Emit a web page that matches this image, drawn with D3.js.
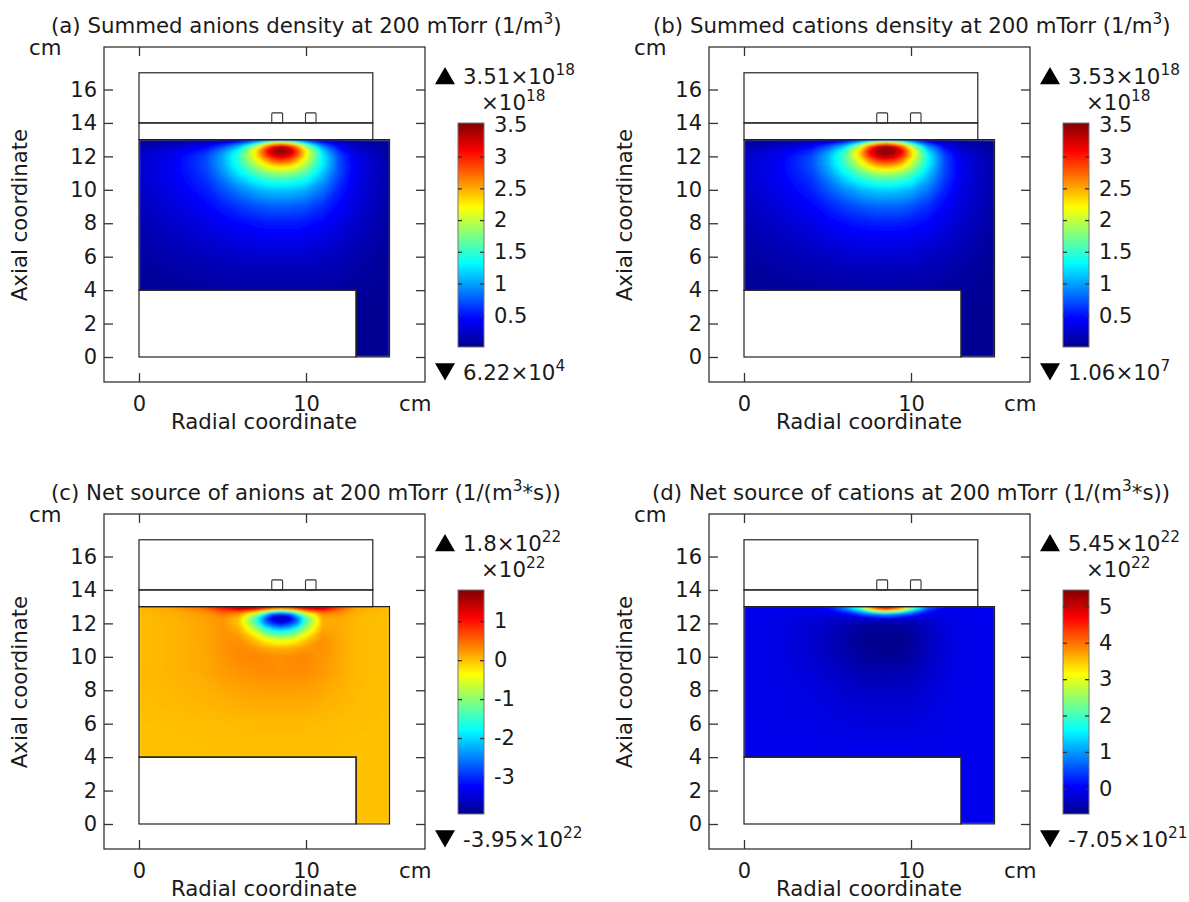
<!DOCTYPE html>
<html>
<head>
<meta charset="utf-8">
<script src="https://cdn.jsdelivr.net/npm/d3@7"></script>
<style>
  html, body { margin: 0; padding: 0; background: #fff; }
  text { font-family: "DejaVu Sans", sans-serif; fill: #1a1a1a; }
</style>
</head>
<body>
<div id="chart"></div>
<script>
const r_levels = [0, 2, 4, 5, 6, 7, 7.5, 8, 8.5, 9, 9.5, 10, 11, 12, 13, 15];
const z_levels = [0, 4, 5, 6, 7, 8, 9, 10, 10.5, 11, 11.5, 12, 12.3, 12.6, 12.85, 13];

const anions_density = [
  [.02, .02, .02, .02, .02, .02, .02, .02, .02, .02, .02, .02, .02, .02, .02, .02],
  [.03, .05, .07, .08, .09, .09, .09, .09, .09, .09, .09, .09, .08, .07, .05, .02],
  [.05, .08, .11, .13, .14, .15, .15, .15, .15, .15, .15, .15, .13, .11, .08, .03],
  [.08, .13, .18, .21, .23, .24, .24, .24, .24, .24, .24, .24, .21, .18, .12, .04],
  [.11, .18, .26, .3, .34, .36, .37, .37, .37, .37, .37, .36, .31, .26, .18, .05],
  [.14, .24, .34, .4, .46, .5, .52, .52, .52, .52, .52, .5, .44, .34, .24, .07],
  [.18, .3, .44, .54, .64, .72, .75, .77, .77, .77, .75, .72, .6, .44, .3, .08],
  [.22, .36, .55, .72, .9, 1.05, 1.1, 1.13, 1.14, 1.13, 1.1, 1.05, .84, .56, .34, .09],
  [.24, .38, .6, .82, 1.08, 1.3, 1.37, 1.42, 1.43, 1.42, 1.37, 1.3, .98, .62, .36, .09],
  [.25, .4, .66, .94, 1.28, 1.6, 1.72, 1.82, 1.85, 1.82, 1.72, 1.6, 1.14, .68, .38, .09],
  [.25, .4, .7, 1.02, 1.45, 1.95, 2.2, 2.4, 2.45, 2.4, 2.2, 1.92, 1.28, .7, .38, .09],
  [.23, .38, .68, 1.03, 1.52, 2.25, 2.7, 3.1, 3.25, 3.1, 2.7, 2.2, 1.3, .68, .35, .08],
  [.19, .32, .58, .92, 1.4, 2.3, 2.9, 3.38, 3.5, 3.38, 2.9, 2.25, 1.18, .58, .28, .07],
  [.13, .22, .42, .68, 1.08, 1.9, 2.5, 3.05, 3.3, 3.05, 2.5, 1.85, .9, .42, .2, .05],
  [.05, .1, .18, .3, .5, 1.0, 1.4, 1.8, 2.0, 1.8, 1.4, 1.0, .42, .2, .09, .02],
  [.01, .01, .02, .03, .06, .12, .18, .25, .3, .25, .18, .12, .05, .02, .01, 0]
];

const cations_density = [
  [.02, .02, .02, .02, .02, .02, .02, .02, .02, .02, .02, .02, .02, .02, .02, .02],
  [.03, .05, .07, .08, .09, .09, .09, .09, .09, .09, .09, .09, .08, .07, .05, .02],
  [.05, .08, .11, .13, .14, .15, .15, .16, .16, .16, .15, .15, .13, .11, .08, .03],
  [.08, .13, .18, .21, .24, .25, .25, .25, .25, .25, .25, .25, .21, .18, .12, .04],
  [.11, .18, .26, .31, .35, .37, .38, .38, .38, .38, .38, .37, .32, .26, .18, .05],
  [.14, .24, .34, .41, .48, .52, .53, .54, .54, .54, .53, .51, .45, .34, .24, .07],
  [.18, .3, .44, .55, .66, .74, .77, .79, .79, .79, .77, .73, .61, .44, .3, .08],
  [.22, .36, .55, .74, .93, 1.08, 1.13, 1.16, 1.17, 1.16, 1.12, 1.07, .86, .57, .34, .09],
  [.24, .38, .6, .84, 1.12, 1.34, 1.42, 1.47, 1.48, 1.47, 1.42, 1.33, 1.0, .63, .36, .09],
  [.25, .4, .66, .96, 1.32, 1.66, 1.8, 1.9, 1.93, 1.9, 1.8, 1.64, 1.16, .69, .38, .09],
  [.25, .4, .71, 1.05, 1.5, 2.05, 2.35, 2.55, 2.6, 2.55, 2.35, 2.02, 1.32, .71, .38, .09],
  [.23, .38, .69, 1.05, 1.58, 2.4, 2.9, 3.25, 3.35, 3.25, 2.9, 2.35, 1.35, .69, .35, .08],
  [.19, .32, .59, .94, 1.46, 2.45, 3.1, 3.44, 3.52, 3.44, 3.1, 2.4, 1.22, .59, .28, .07],
  [.13, .22, .43, .7, 1.12, 2.05, 2.7, 3.22, 3.4, 3.22, 2.7, 2.0, .95, .43, .2, .05],
  [.05, .1, .18, .31, .53, 1.1, 1.55, 1.95, 2.15, 1.95, 1.55, 1.1, .44, .2, .09, .02],
  [.01, .01, .02, .03, .06, .13, .2, .27, .32, .27, .2, .13, .05, .02, .01, 0]
];

const anions_source = [
  [0, 0, 0, 0, 0, 0, 0, 0, 0, 0, 0, 0, 0, 0, 0, 0],
  [0, 0, 0, 0, 0, .01, .01, .01, .01, .01, .01, .01, 0, 0, 0, 0],
  [0, 0, .01, .01, .02, .02, .02, .02, .02, .02, .02, .02, .01, .01, 0, 0],
  [0, .01, .02, .03, .04, .04, .05, .05, .05, .05, .05, .04, .03, .02, .01, 0],
  [.02, .04, .06, .08, .1, .11, .11, .11, .11, .11, .11, .11, .08, .06, .03, 0],
  [.03, .05, .1, .13, .16, .18, .19, .19, .19, .19, .19, .18, .14, .09, .04, 0],
  [.04, .07, .14, .2, .25, .28, .29, .29, .29, .29, .29, .28, .22, .13, .05, 0],
  [.03, .07, .15, .24, .31, .34, .32, .3, .29, .3, .32, .33, .26, .14, .05, 0],
  [.03, .07, .15, .25, .31, .24, .17, .12, .1, .12, .17, .24, .28, .14, .05, 0],
  [.03, .07, .16, .26, .27, -.03, -.28, -.48, -.53, -.48, -.28, -.03, .28, .14, .05, 0],
  [.03, .07, .16, .26, .14, -.62, -1.18, -1.58, -1.72, -1.58, -1.18, -.62, .2, .14, .05, 0],
  [.03, .07, .16, .25, -.05, -1.4, -2.4, -3.0, -3.3, -3.0, -2.4, -1.3, .1, .13, .05, 0],
  [.03, .08, .18, .28, -.02, -1.5, -2.7, -3.6, -3.9, -3.6, -2.7, -1.4, .12, .15, .06, 0],
  [.04, .1, .25, .45, .3, -.7, -1.6, -2.6, -2.9, -2.6, -1.6, -.6, .35, .25, .08, .01],
  [.05, .14, .42, .85, 1.2, 1.0, .5, -.05, -.3, -.05, .5, 1.0, 1.15, .55, .14, .02],
  [.06, .2, .65, 1.2, 1.7, 1.8, 1.75, 1.7, 1.65, 1.7, 1.75, 1.8, 1.6, .8, .18, .03]
];

const cations_source = [
  [-.03, -.03, -.03, -.03, -.03, -.03, -.03, -.03, -.03, -.03, -.03, -.03, -.03, -.03, -.03, -.03],
  [-.04, -.04, -.04, -.05, -.05, -.05, -.05, -.05, -.05, -.05, -.05, -.05, -.05, -.04, -.04, -.03],
  [-.05, -.06, -.07, -.08, -.09, -.1, -.1, -.1, -.1, -.1, -.1, -.1, -.08, -.07, -.05, -.03],
  [-.05, -.07, -.1, -.12, -.14, -.15, -.16, -.16, -.16, -.16, -.16, -.15, -.12, -.09, -.06, -.03],
  [-.06, -.08, -.12, -.16, -.19, -.21, -.22, -.22, -.22, -.22, -.22, -.21, -.16, -.11, -.06, -.03],
  [-.06, -.09, -.15, -.2, -.26, -.3, -.32, -.32, -.32, -.32, -.32, -.3, -.21, -.13, -.07, -.03],
  [-.07, -.11, -.18, -.26, -.35, -.43, -.45, -.46, -.47, -.46, -.45, -.42, -.28, -.16, -.08, -.03],
  [-.07, -.12, -.22, -.33, -.46, -.58, -.62, -.64, -.65, -.64, -.62, -.57, -.36, -.2, -.08, -.03],
  [-.07, -.12, -.24, -.36, -.5, -.63, -.67, -.69, -.7, -.69, -.67, -.62, -.38, -.2, -.08, -.03],
  [-.07, -.12, -.25, -.37, -.52, -.65, -.68, -.7, -.7, -.7, -.68, -.64, -.39, -.2, -.08, -.03],
  [-.07, -.12, -.24, -.36, -.5, -.62, -.65, -.67, -.67, -.67, -.65, -.6, -.37, -.19, -.08, -.03],
  [-.06, -.11, -.21, -.31, -.42, -.5, -.54, -.56, -.56, -.56, -.54, -.49, -.32, -.16, -.07, -.03],
  [-.06, -.1, -.17, -.23, -.27, -.24, -.2, -.16, -.14, -.16, -.2, -.22, -.23, -.13, -.06, -.03],
  [-.05, -.08, -.12, -.12, .1, .55, .85, 1.1, 1.2, 1.1, .85, .55, .02, -.1, -.05, -.02],
  [-.04, -.05, -.05, .05, .7, 1.8, 2.9, 3.8, 4.3, 3.8, 3.0, 2.0, .45, -.02, -.03, -.02],
  [-.03, -.03, 0, .12, .9, 2.4, 3.9, 5.0, 5.4, 5.0, 4.1, 2.8, .8, .1, -.02, -.01]
];

// geometry of the reactor drawing (cm)
const plasma_outline = [[0, 4], [0, 13], [15, 13], [15, 0], [13, 0], [13, 4]];
const boxes = [[0, 14, 14, 17], [0, 13, 14, 14], [0, 0, 13, 4]];   // r0, z0, r1, z1
const coils = [[7.95, 14, 8.6, 14.6], [9.97, 14, 10.6, 14.6]];

const x_ticks = [0, 10];
const y_ticks = [0, 2, 4, 6, 8, 10, 12, 14, 16];

const jet_stops = [0, .125, .375, .625, .875, 1];
const jet_colors = ["#00008f", "#0000ff", "#00ffff", "#ffff00", "#ff0000", "#800000"];

const panel_ids = ["a", "b", "c", "d"];
const titles = [
  ["(a) Summed anions density at 200 mTorr (1/m", "3", ")"],
  ["(b) Summed cations density at 200 mTorr (1/m", "3", ")"],
  ["(c) Net source of anions at 200 mTorr (1/(m", "3", "*s))"],
  ["(d) Net source of cations at 200 mTorr (1/(m", "3", "*s))"]
];
const fields = [anions_density, cations_density, anions_source, cations_source];
const color_domains = [[0, 3.53], [0, 3.53], [-3.95, 1.8], [-.705, 5.45]];
const bar_ticks = [
  [.5, 1, 1.5, 2, 2.5, 3, 3.5],
  [.5, 1, 1.5, 2, 2.5, 3, 3.5],
  [-3, -2, -1, 0, 1],
  [0, 1, 2, 3, 4, 5]
];
const max_labels = [["3.51×10", "18"], ["3.53×10", "18"], ["1.8×10", "22"], ["5.45×10", "22"]];
const min_labels = [["6.22×10", "4"], ["1.06×10", "7"], ["-3.95×10", "22"], ["-7.05×10", "21"]];
const bar_exponents = ["18", "18", "22", "22"];

const panel_dx = [0, 605, 0, 605];
const panel_dy = [0, 0, 467, 467];
const title_x = [51, 48, 51, 47];

const font_big = 21.3;

function add_sup(sel, parts)
{
  sel.append("tspan").text(parts[0]);
  sel.append("tspan").attr("dy", -9).attr("font-size", font_big * .72).text(parts[1]);
  if (parts[2])
    sel.append("tspan").attr("dy", 9).text(parts[2]);
}

function draw_panel(svg, i)
{
  const g = svg.append("g")
    .attr("transform", `translate(${panel_dx[i]}, ${panel_dy[i]})`)
    .attr("font-size", font_big);

  const x = d3.scaleLinear().domain([0, 10]).range([139, 306]);
  const y = d3.scaleLinear().domain([0, 16]).range([357, 89.5]);
  const frame = {left: 104, right: 425, top: 47, bottom: 382};

  const jet = d3.scaleLinear().domain(jet_stops).range(jet_colors);
  const dom = color_domains[i];
  const color = d3.scaleLinear().domain(dom).range([0, 1]);

  // the field: filled contours on the read-off grid, grid index -> cm -> px
  const rows = fields[i];
  const nx = r_levels.length, ny = z_levels.length;
  const sx = d3.scaleLinear().domain(d3.range(nx)).range(r_levels).clamp(true);
  const sy = d3.scaleLinear().domain(d3.range(ny)).range(z_levels).clamp(true);
  const thresholds = d3.range(dom[0], dom[1], (dom[1] - dom[0]) / 400);
  const contours = d3.contours().size([nx, ny]).thresholds(thresholds)(rows.flat());
  const proj = d3.geoTransform({
    point: function(px, py) { this.stream.point(x(sx(px - .5)), y(sy(py - .5))); }
  });
  const path = d3.geoPath(proj);
  const outline = d3.line().x(d => x(d[0])).y(d => y(d[1])).curve(d3.curveLinearClosed);

  g.append("clipPath").attr("id", "clip-" + panel_ids[i])
    .append("path").attr("d", outline(plasma_outline));

  g.append("g")
    .attr("clip-path", `url(#clip-${panel_ids[i]})`)
    .append("g")
    .attr("filter", "url(#soft)")
    .selectAll("path")
    .data(contours)
    .join("path")
      .attr("d", path)
      .attr("fill", d => jet(color(d.value)));

  // drawing outlines
  g.append("path").attr("d", outline(plasma_outline))
    .attr("fill", "none").attr("stroke", "#222").attr("stroke-width", 1.2);
  g.selectAll("rect.box").data(boxes).join("rect").attr("class", "box")
    .attr("x", d => x(d[0])).attr("y", d => y(d[3]))
    .attr("width", d => x(d[2]) - x(d[0])).attr("height", d => y(d[1]) - y(d[3]))
    .attr("fill", "none").attr("stroke", "#222").attr("stroke-width", 1.2);
  g.selectAll("rect.coil").data(coils).join("rect").attr("class", "coil")
    .attr("x", d => x(d[0])).attr("y", d => y(d[3]))
    .attr("width", d => x(d[2]) - x(d[0])).attr("height", d => y(d[1]) - y(d[3]))
    .attr("rx", 1)
    .attr("fill", "none").attr("stroke", "#333").attr("stroke-width", 1.1);

  // frame and mirrored axes
  g.append("rect")
    .attr("x", frame.left).attr("y", frame.top)
    .attr("width", frame.right - frame.left).attr("height", frame.bottom - frame.top)
    .attr("fill", "none").attr("stroke", "#333").attr("stroke-width", 1.3);

  const style_axis = function(a) {
    a.select(".domain").remove();
    a.selectAll(".tick line").attr("stroke", "#333").attr("stroke-width", 1.3);
    a.selectAll("text").attr("font-family", "DejaVu Sans").attr("font-size", 21).attr("fill", "#1a1a1a");
  };

  g.append("g").attr("transform", `translate(0, ${frame.bottom})`)
    .call(d3.axisBottom(x).tickValues(x_ticks).tickSize(-9).tickPadding(14).tickFormat(d3.format("d")))
    .call(style_axis);
  g.append("g").attr("transform", `translate(0, ${frame.top})`)
    .call(d3.axisTop(x).tickValues(x_ticks).tickSize(-9).tickFormat(""))
    .call(style_axis);
  g.append("g").attr("transform", `translate(${frame.left}, 0)`)
    .call(d3.axisLeft(y).tickValues(y_ticks).tickSize(-9).tickPadding(7).tickFormat(d3.format("d")))
    .call(style_axis);
  g.append("g").attr("transform", `translate(${frame.right}, 0)`)
    .call(d3.axisRight(y).tickValues(y_ticks).tickSize(-9).tickFormat(""))
    .call(style_axis);

  // labels
  add_sup(g.append("text").attr("x", title_x[i]).attr("y", 33), titles[i]);
  g.append("text").attr("x", 264).attr("y", 429).attr("text-anchor", "middle").text("Radial coordinate");
  g.append("text").attr("transform", "translate(27, 215) rotate(-90)")
    .attr("text-anchor", "middle").text("Axial coordinate");
  g.append("text").attr("x", 29).attr("y", 55).text("cm");
  g.append("text").attr("x", 399).attr("y", 411).text("cm");

  // colour bar
  const bar = {left: 458, right: 484, top: 123, bottom: 347};
  const bar_y = d3.scaleLinear().domain(dom).range([bar.bottom, bar.top]);

  g.append("rect")
    .attr("x", bar.left).attr("y", bar.top)
    .attr("width", bar.right - bar.left).attr("height", bar.bottom - bar.top)
    .attr("fill", "url(#jet)").attr("stroke", "#777").attr("stroke-width", 1);

  g.append("g").attr("transform", `translate(${bar.right}, 0)`)
    .call(d3.axisRight(bar_y).tickValues(bar_ticks[i]).tickSize(-4).tickPadding(10).tickFormat(d => d))
    .call(style_axis);
  g.append("g").attr("transform", `translate(${bar.left}, 0)`)
    .call(d3.axisLeft(bar_y).tickValues(bar_ticks[i]).tickSize(-4).tickFormat(""))
    .call(style_axis);

  add_sup(g.append("text").attr("x", 481).attr("y", 110), ["×10", bar_exponents[i]]);

  // max and min markers
  g.append("path").attr("d", d3.symbol().type(d3.symbolTriangle).size(173))
    .attr("transform", "translate(445, 78.5)").attr("fill", "#000");
  g.append("path").attr("d", d3.symbol().type(d3.symbolTriangle).size(173))
    .attr("transform", "translate(445, 369) rotate(180)").attr("fill", "#000");
  add_sup(g.append("text").attr("x", 463).attr("y", 84), max_labels[i]);
  add_sup(g.append("text").attr("x", 463).attr("y", 380), min_labels[i]);
}

const svg = d3.select("#chart").append("svg")
  .attr("width", 1189).attr("height", 902)
  .style("display", "block");

const defs = svg.append("defs");
defs.append("filter").attr("id", "soft")
  .attr("x", "-5%").attr("y", "-5%").attr("width", "110%").attr("height", "110%")
  .append("feGaussianBlur").attr("stdDeviation", 0.9);
defs.append("linearGradient").attr("id", "jet")
  .attr("x1", 0).attr("y1", 1).attr("x2", 0).attr("y2", 0)
  .selectAll("stop").data(jet_stops).join("stop")
    .attr("offset", d => d)
    .attr("stop-color", (d, i) => jet_colors[i]);

panel_ids.forEach(function(id, i) { draw_panel(svg, i); });
</script>
</body>
</html>
